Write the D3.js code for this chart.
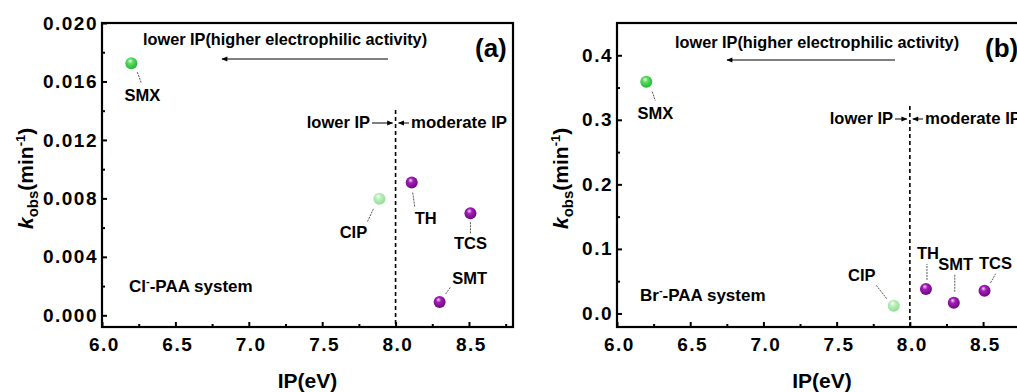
<!DOCTYPE html>
<html>
<head>
<meta charset="utf-8">
<script src="https://cdn.jsdelivr.net/npm/d3@7/dist/d3.min.js"></script>
<style>
  html, body { margin: 0; padding: 0; background: #fff; }
  svg { display: block; }
  text { font-family: "Liberation Sans", Arial, sans-serif; font-weight: bold; fill: #000; }
</style>
</head>
<body>
<svg id="chart" width="1017" height="392"></svg>
<script>
// Compounds and their ionization potentials (eV)
const compounds = ["SMX", "CIP", "TH", "TCS", "SMT"];
const ipValues = [6.20, 7.89, 8.11, 8.51, 8.30];
// Observed rate constants (min^-1) in each system
const kobsCl = [0.01725, 0.00797, 0.00908, 0.00698, 0.00091];
const kobsBr = [0.359, 0.012, 0.038, 0.035, 0.0165];
// Ball colour group for each compound
const groups = ["green", "light", "purple", "purple", "purple"];
// Axis ticks
const xTicks = [6.0, 6.5, 7.0, 7.5, 8.0, 8.5];
const yTicksCl = [0.000, 0.004, 0.008, 0.012, 0.016, 0.020];
const yTicksBr = [0.0, 0.1, 0.2, 0.3, 0.4];
const ipBoundary = 8.0;

const svg = d3.select("#chart");

// Sphere-like fills
const defs = svg.append("defs");
const ballColors = {
  green:  ["#e9ffe9", "#5fdc66", "#22b534"],
  light:  ["#ffffff", "#bdf0bd", "#93dc96"],
  purple: ["#f6d8fa", "#a51db9", "#6b087d"]
};
Object.entries(ballColors).forEach(([k, c]) => {
  const g = defs.append("radialGradient").attr("id", "ball-" + k)
    .attr("cx", "45%").attr("cy", "40%").attr("r", "60%")
    .attr("fx", "40%").attr("fy", "30%");
  g.append("stop").attr("offset", "0%").attr("stop-color", c[0]);
  g.append("stop").attr("offset", "35%").attr("stop-color", c[1]);
  g.append("stop").attr("offset", "100%").attr("stop-color", c[2]);
});
defs.append("marker").attr("id", "head").attr("viewBox", "0 0 10 10")
  .attr("refX", 9).attr("refY", 5).attr("markerWidth", 7).attr("markerHeight", 6)
  .attr("markerUnits", "userSpaceOnUse").attr("orient", "auto")
  .append("path").attr("d", "M0,1 L10,5 L0,9 Z").attr("fill", "#000");

// Label placement around each ball (same order as compounds):
// label centre offset and leader line offsets, in px
const labelLayoutCl = [
  { dx: 11, dy: 32, l: [6, 9, 10, 20] },
  { dx: -26, dy: 33, l: [-6, 10, -12, 23] },
  { dx: 14, dy: 35, l: [1, 10, 3, 24] },
  { dx: 0, dy: 30, l: [0, 9, 0, 20] },
  { dx: 30, dy: -24, l: [6, -8, 11, -15] }
];
const labelLayoutBr = [
  { dx: 9, dy: 31, l: [6, 10, 9, 19] },
  { dx: -32, dy: -31, l: [-7, -7, -18, -21] },
  { dx: 2, dy: -36, l: [1, -9, 1, -25] },
  { dx: 11, dy: -28, l: [6, -8, 11, -17] },
  { dx: 2, dy: -39, l: [1, -11, 1, -29] }
];

function drawPanel(opt) {
  const { left, top, width, height, yDomain, yTicks, yMinorStep, yFmt, kobs,
          layout, system, tag, texts } = opt;
  const g = svg.append("g").attr("transform", `translate(${left},${top})`);
  const x = d3.scaleLinear().domain([6.0, 8.8]).range([0, width]);
  const y = d3.scaleLinear().domain(yDomain).range([height, 0]);

  // minor ticks
  const xMinor = d3.range(6.25, 8.8, 0.5);
  const yMinor = yTicks.map(v => v + yMinorStep).filter(v => v < yDomain[1]);
  g.append("g").attr("transform", `translate(0,${height})`)
    .call(d3.axisBottom(x).tickValues(xMinor).tickSize(-3).tickFormat(""))
    .call(a => a.select(".domain").remove())
    .selectAll("line").attr("stroke-width", 2);
  g.append("g")
    .call(d3.axisLeft(y).tickValues(yMinor).tickSize(-3).tickFormat(""))
    .call(a => a.select(".domain").remove())
    .selectAll("line").attr("stroke-width", 2);

  // major ticks and labels
  const xa = g.append("g").attr("transform", `translate(0,${height})`)
    .call(d3.axisBottom(x).tickValues(xTicks).tickSize(-5).tickPadding(11)
      .tickFormat(d3.format(".1f")));
  xa.select(".domain").remove();
  xa.selectAll("line").attr("stroke-width", 2);
  xa.selectAll("text").attr("font-size", 19).attr("letter-spacing", 1.5)
    .attr("font-family", "Liberation Sans, Arial, sans-serif").attr("font-weight", "bold")
    .attr("fill", "#000").attr("dx", "0.1em");
  const ya = g.append("g")
    .call(d3.axisLeft(y).tickValues(yTicks).tickSize(-5).tickPadding(4)
      .tickFormat(d3.format(yFmt)));
  ya.select(".domain").remove();
  ya.selectAll("line").attr("stroke-width", 2);
  ya.selectAll("text").attr("font-size", 19).attr("letter-spacing", 1.5)
    .attr("font-family", "Liberation Sans, Arial, sans-serif").attr("font-weight", "bold")
    .attr("fill", "#000");

  // frame
  g.append("rect").attr("x", 0).attr("y", 0).attr("width", width).attr("height", height)
    .attr("fill", "none").attr("stroke", "#000").attr("stroke-width", 2.2);

  // boundary between lower and moderate IP
  g.append("line").attr("x1", x(ipBoundary)).attr("x2", x(ipBoundary))
    .attr("y1", texts.dashTop).attr("y2", height)
    .attr("stroke", "#000").attr("stroke-width", 1.6).attr("stroke-dasharray", "4,3");

  // headline and long arrow
  g.append("text").attr("x", texts.headX).attr("y", texts.headY)
    .attr("font-size", 16.3).text("lower IP(higher electrophilic activity)");
  g.append("line").attr("x1", texts.arrowX1).attr("x2", texts.arrowX2)
    .attr("y1", texts.arrowY).attr("y2", texts.arrowY)
    .attr("stroke", "#000").attr("stroke-width", 1).attr("marker-end", "url(#head)");

  // lower / moderate IP around the boundary
  const bx = x(ipBoundary);
  g.append("text").attr("x", texts.lowEnd).attr("y", texts.midY)
    .attr("text-anchor", "end").attr("font-size", 16.5).text("lower IP");
  g.append("line").attr("x1", texts.lowEnd + 2).attr("x2", bx - 3)
    .attr("y1", texts.midY - 5).attr("y2", texts.midY - 5)
    .attr("stroke", "#000").attr("stroke-width", 1).attr("marker-end", "url(#head)");
  g.append("line").attr("x1", texts.modStart - 2).attr("x2", bx + 3)
    .attr("y1", texts.midY - 5).attr("y2", texts.midY - 5)
    .attr("stroke", "#000").attr("stroke-width", 1).attr("marker-end", "url(#head)");
  g.append("text").attr("x", texts.modStart).attr("y", texts.midY)
    .attr("font-size", 16.8).text("moderate IP");

  // system name
  const sys = g.append("text").attr("x", texts.sysX).attr("y", texts.sysY).attr("font-size", 17);
  sys.append("tspan").text(system);
  sys.append("tspan").attr("dy", -7).attr("font-size", 11).text("-");
  sys.append("tspan").attr("dy", 7).text("-PAA system");

  // panel tag
  g.append("text").attr("x", texts.tagX).attr("y", 34).attr("font-size", 26).text(tag);

  // leaders, labels and balls
  const pts = compounds.map((c, i) => ({ name: c, px: x(ipValues[i]), py: y(kobs[i]),
    grp: groups[i], lay: layout[i] }));
  g.selectAll("line.leader").data(pts).join("line").attr("class", "leader")
    .attr("x1", d => d.px + d.lay.l[0]).attr("y1", d => d.py + d.lay.l[1])
    .attr("x2", d => d.px + d.lay.l[2]).attr("y2", d => d.py + d.lay.l[3])
    .attr("stroke", "#444").attr("stroke-width", 0.9).attr("stroke-dasharray", "2,1");
  g.selectAll("text.lbl").data(pts).join("text").attr("class", "lbl")
    .attr("x", d => d.px + d.lay.dx).attr("y", d => d.py + d.lay.dy)
    .attr("text-anchor", "middle").attr("dominant-baseline", "central")
    .attr("font-size", 16.5).text(d => d.name);
  g.selectAll("circle.ball").data(pts).join("circle").attr("class", "ball")
    .attr("cx", d => d.px).attr("cy", d => d.py).attr("r", 6)
    .attr("fill", d => `url(#ball-${d.grp})`);

  // y title
  const yt = svg.append("text")
    .attr("transform", `translate(${opt.yTitleX},229) rotate(-90)`)
    .attr("font-size", 21);
  yt.append("tspan").attr("font-style", "italic").text("k");
  yt.append("tspan").attr("font-size", 15).attr("dy", 5).text("obs");
  yt.append("tspan").attr("dy", -5).text("(min");
  yt.append("tspan").attr("font-size", 13).attr("dy", -8).text("-1");
  yt.append("tspan").attr("dy", 8).text(")");

  // x title
  svg.append("text").attr("x", left + width / 2).attr("y", 388)
    .attr("text-anchor", "middle").attr("font-size", 21).text("IP(eV)");
}

drawPanel({
  left: 102, top: 23, width: 411, height: 304,
  yDomain: [-0.0008, 0.020], yTicks: yTicksCl, yMinorStep: 0.002, yFmt: ".3f",
  kobs: kobsCl, layout: labelLayoutCl, system: "Cl", tag: "(a)", yTitleX: 33,
  texts: { dashTop: 87, headX: 41, headY: 22, arrowX1: 286, arrowX2: 120, arrowY: 36,
           lowEnd: 268, midY: 105, modStart: 309, sysX: 27, sysY: 269, tagX: 373 }
});
drawPanel({
  left: 617, top: 23, width: 410, height: 304,
  yDomain: [-0.021, 0.45], yTicks: yTicksBr, yMinorStep: 0.05, yFmt: ".1f",
  kobs: kobsBr, layout: labelLayoutBr, system: "Br", tag: "(b)", yTitleX: 568,
  texts: { dashTop: 83, headX: 58, headY: 25, arrowX1: 278, arrowX2: 110, arrowY: 37,
           lowEnd: 276, midY: 101, modStart: 308, sysX: 23, sysY: 278, tagX: 368 }
});
</script>
</body>
</html>
